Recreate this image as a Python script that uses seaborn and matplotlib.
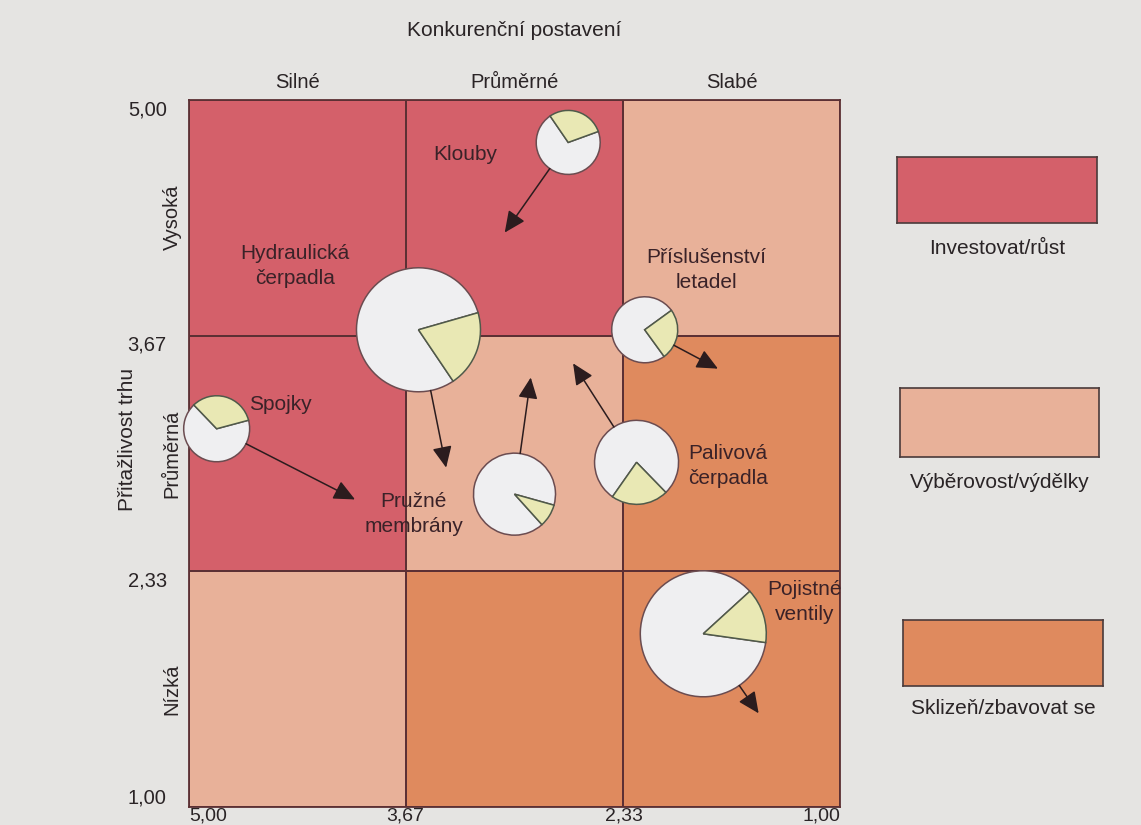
import numpy as np
import matplotlib
matplotlib.use('Agg')
import matplotlib.pyplot as plt
import matplotlib.transforms as mtransforms
from matplotlib.colors import ListedColormap
from matplotlib.patches import Wedge
import seaborn as sns

sns.set_style('white')
plt.rcParams['font.family'] = ['Liberation Sans', 'DejaVu Sans']

# GE / McKinsey matrix: strategy zone of each cell (0 invest, 1 selectivity, 2 harvest)
col_names = ['Silné', 'Průměrné', 'Slabé']
row_names = ['Vysoká', 'Průměrná', 'Nízká']
zones = [[0, 0, 1],
         [0, 1, 2],
         [1, 2, 2]]
zone_names = ['Investovat/růst', 'Výběrovost/výdělky', 'Sklizeň/zbavovat se']
zone_colors = ['#d4606a', '#e8b199', '#df8a5e']

tick_vals = [5.0, 3.67, 2.33, 1.0]
tick_text = ['5,00', '3,67', '2,33', '1,00']

# business units: position (competitive strength, market attractiveness)
units = ['Klouby', 'Hydraulická\nčerpadla', 'Příslušenství\nletadel', 'Spojky',
         'Pružné\nmembrány', 'Palivová\nčerpadla', 'Pojistné\nventily']
pos_x = [2.67, 3.59, 2.20, 4.83, 3.00, 2.25, 1.84]
pos_y = [4.76, 3.70, 3.70, 3.14, 2.77, 2.95, 1.98]
market_size = [32, 62, 33, 33, 41, 42, 63]          # pie radius (px)
market_share = [0.29, 0.20, 0.25, 0.33, 0.09, 0.22, 0.14]
share_start = [20, -56, -54, 15, -48, -125, -8]     # start angle of the share slice
# expected future positions (arrow heads)
future_x = [3.06, 3.42, 1.75, 3.98, 2.90, 2.64, 1.50]
future_y = [4.25, 2.92, 3.48, 2.74, 3.43, 3.51, 1.53]
# where the unit names are written
label_x = [3.30, 4.35, 1.82, 4.44, 3.62, 1.69, 1.22]
label_y = [4.69, 4.06, 4.04, 3.28, 2.66, 2.93, 2.16]

W, H = 1141, 825
fig = plt.figure(figsize=(W / 100, H / 100), dpi=100, facecolor='#e5e4e2')
rect = [189 / W, 1 - 807 / H, 651 / W, 707 / H]

# cells as a seaborn heatmap
ax_bg = fig.add_axes(rect)
sns.heatmap(np.array(zones), cmap=ListedColormap(zone_colors), vmin=-0.5, vmax=2.5,
            cbar=False, linewidths=1.3, linecolor='#5c3034', ax=ax_bg)
ax_bg.set_xticks([])
ax_bg.set_yticks([])
for s in ax_bg.spines.values():
    s.set_visible(True)
    s.set_color('#5c3034')
    s.set_linewidth(1.3)

# overlay axes with the score scales
ax = fig.add_axes(rect, facecolor='none')
ax.set_xlim(5, 1)
ax.set_ylim(1, 5)
for s in ax.spines.values():
    s.set_visible(False)
ax.set_xticks(tick_vals)
ax.set_xticklabels(tick_text, fontsize=14, color='#2a2426')
ax.set_yticks(tick_vals)
ax.set_yticklabels(tick_text, fontsize=14.5, color='#2a2426')
ax.tick_params(axis='both', length=0)
ax.tick_params(axis='y', pad=16)
ax.tick_params(axis='x', pad=0.5)
xl = ax.get_xticklabels()
xl[0].set_ha('left')
xl[-1].set_ha('right')
yl = ax.get_yticklabels()
yl[0].set_va('top')
yl[1].set_va('top')
yl[2].set_va('top')
yl[-1].set_va('bottom')

ax.text(0.5, 1.099, 'Konkurenční postavení', transform=ax.transAxes,
        ha='center', va='center', fontsize=15, color='#2a2426')
ax.text(-0.094, 0.52, 'Přitažlivost trhu', transform=ax.transAxes, rotation=90,
        ha='center', va='center', fontsize=15, color='#2a2426')
centers = [(5 + 3.67) / 2, 3.0, (2.33 + 1) / 2]
tr_top = mtransforms.blended_transform_factory(ax.transData, ax.transAxes)
tr_left = mtransforms.blended_transform_factory(ax.transAxes, ax.transData)
for c, name in zip(centers, col_names):
    ax.text(c, 1.025, name, transform=tr_top, ha='center', va='center',
            fontsize=14.5, color='#2a2426')
for c, name in zip(centers, row_names):
    ax.text(-0.026, c, name, transform=tr_left, rotation=90, ha='center',
            va='center', fontsize=14.5, color='#2a2426')

# pies (round in pixels) + movement arrows
for i in range(len(units)):
    off = fig.dpi_scale_trans + mtransforms.ScaledTranslation(pos_x[i], pos_y[i], ax.transData)
    r = market_size[i] / 100
    a0 = share_start[i]
    a1 = a0 + market_share[i] * 360
    ax.add_patch(Wedge((0, 0), r, a1, a0 + 360, transform=off, facecolor='#efeff1',
                       edgecolor='#6b4c50', lw=1.1, zorder=5, clip_on=False))
    ax.add_patch(Wedge((0, 0), r, a0, a1, transform=off, facecolor='#e9e8b4',
                       edgecolor='#4f5a4a', lw=1.1, zorder=5, clip_on=False))
    ax.annotate('', xy=(future_x[i], future_y[i]), xytext=(pos_x[i], pos_y[i]),
                arrowprops=dict(arrowstyle='-|>,head_length=0.65,head_width=0.3',
                                mutation_scale=20, color='#2b1c1e', lw=1.1,
                                shrinkA=market_size[i] * 0.72, shrinkB=0),
                zorder=6)
    ax.text(label_x[i], label_y[i], units[i], ha='center', va='center',
            fontsize=15, color='#3a2228', linespacing=1.4, zorder=4)

# legend swatches on the right
legend_boxes = [(897, 157, 200, 66), (900, 388, 199, 69), (903, 620, 200, 66)]
legend_text_y = [249, 482, 708]
for (x0, y0, w, h), col, name, ty in zip(legend_boxes, zone_colors, zone_names, legend_text_y):
    lax = fig.add_axes([x0 / W, 1 - (y0 + h) / H, w / W, h / H], facecolor=col)
    lax.set_xticks([])
    lax.set_yticks([])
    for s in lax.spines.values():
        s.set_color('#4a3a3a')
        s.set_linewidth(1.2)
    fig.text((x0 + w / 2) / W, 1 - ty / H, name, ha='center', va='center',
             fontsize=15, color='#2a2426')

fig.savefig('out.png', dpi=100, facecolor=fig.get_facecolor())
